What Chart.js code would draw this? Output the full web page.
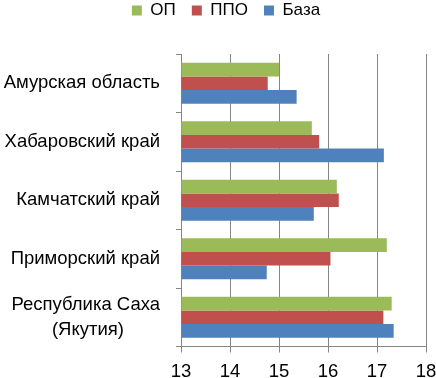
<!DOCTYPE html>
<html>
<head>
<meta charset="utf-8">
<script src="https://cdn.jsdelivr.net/npm/chart.js@4"></script>
<style>
  html, body { margin: 0; padding: 0; background: #fff; }
  #wrap { width: 436px; height: 378px; }
</style>
</head>
<body>
<div id="wrap"><canvas id="myChart" width="436" height="378"></canvas></div>
<script>
// regions (top to bottom)
const regions = [
  'Амурская область',
  'Хабаровский край',
  'Камчатский край',
  'Приморский край',
  ['Республика Саха', '(Якутия)       ']
];
const opValues   = [15.0, 15.67, 16.18, 17.2, 17.3];
const ppoValues  = [14.77, 15.82, 16.22, 16.05, 17.13];
const bazaValues = [15.36, 17.14, 15.71, 14.75, 17.34];
const xTicks = [13, 14, 15, 16, 17, 18];

const FONT = '"Liberation Sans", Arial, sans-serif';

// nudge legend a bit to the right like in the original
const legendShift = {
  id: 'legendShift',
  afterLayout(chart) {
    if (chart.legend) { chart.legend.left += 13; chart.legend.right += 13; }
  }
};

const ctx = document.getElementById('myChart').getContext('2d');
const myChart = new Chart(ctx, {
  type: 'bar',
  data: {
    labels: regions,
    datasets: [
      { label: 'ОП',   data: opValues,   backgroundColor: '#9BBB59' },
      { label: 'ППО',  data: ppoValues,  backgroundColor: '#C0504D' },
      { label: 'База', data: bazaValues, backgroundColor: '#4F81BD' }
    ]
  },
  plugins: [legendShift],
  options: {
    indexAxis: 'y',
    responsive: false,
    animation: false,
    base: 13,
    categoryPercentage: 0.7,
    barPercentage: 1.0,
    layout: { padding: { top: -14, right: 10, left: 0, bottom: -13 } },
    plugins: {
      legend: {
        position: 'top',
        weight: 3000,
        labels: {
          boxWidth: 10, boxHeight: 10, color: '#000',
          font: { family: FONT, size: 17 },
          padding: 16
        }
      },
      // empty title used only as a spacer between legend and plot
      title: {
        display: true, text: '', weight: 2000,
        font: { size: 1, lineHeight: 1 },
        padding: { top: 0, bottom: 24 }
      },
      tooltip: { enabled: false }
    },
    scales: {
      x: {
        min: 13, max: 18,
        afterBuildTicks: (axis) => { axis.ticks = xTicks.map(v => ({ value: v })); },
        afterFit: (axis) => { axis.paddingLeft = 0; axis.paddingRight = 0; },
        grid: { color: '#868686', tickLength: 6, tickColor: '#868686' },
        border: { color: '#868686' },
        ticks: { color: '#000', font: { family: FONT, size: 18.5, lineHeight: 1 }, padding: 10 }
      },
      y: {
        afterFit: (axis) => { axis.width = 181; axis.paddingTop = 0; axis.paddingBottom = 0; },
        grid: { drawOnChartArea: false, tickLength: 5, tickColor: '#868686' },
        border: { color: '#868686' },
        ticks: { color: '#000', font: { family: FONT, size: 18.5, lineHeight: 1.35 }, padding: 16 }
      }
    }
  }
});
</script>
</body>
</html>
